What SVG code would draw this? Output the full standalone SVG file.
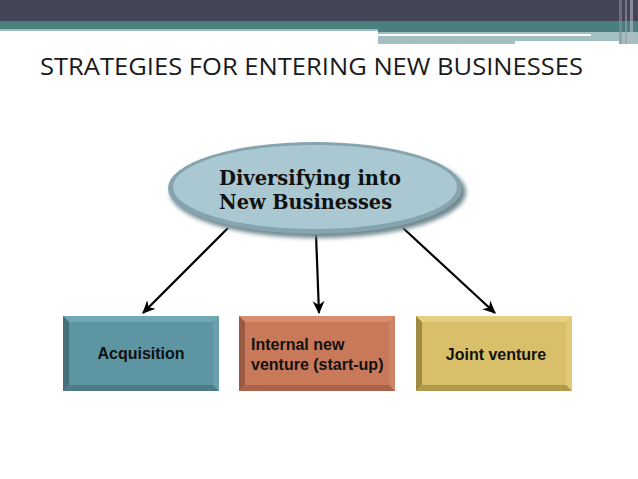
<svg xmlns="http://www.w3.org/2000/svg" width="638" height="479" viewBox="0 0 638 479">
<style>
.lbl{font-family:"Liberation Sans",Arial,sans-serif;font-weight:bold;font-size:16px;fill:#111}
.conn{stroke:#000;stroke-width:2.2;fill:none}
</style>
<defs>
<marker id="ah" viewBox="0 0 12 12" refX="11" refY="6" markerWidth="13" markerHeight="13" orient="auto" markerUnits="userSpaceOnUse">
<path d="M0,0.5 L12,6 L0,11.5 L3.5,6 Z" fill="#000"/>
</marker>
<filter id="sh" x="-10%" y="-10%" width="120%" height="130%">
<feGaussianBlur stdDeviation="2"/>
</filter>
</defs>
<rect width="638" height="479" fill="#fff"/>
<g id="header">
<rect x="0" y="0" width="638" height="21" fill="#434556"/>
<rect x="0" y="21" width="638" height="8" fill="#4a7f80"/>
<rect x="0" y="29" width="378" height="2" fill="#9fbcbf"/>
<rect x="378" y="29" width="260" height="3" fill="#4a7f80"/>
<rect x="378" y="32" width="260" height="12" fill="#a3bfc2"/>
<rect x="378" y="34" width="213" height="2" fill="#fff"/>
<rect x="515" y="41" width="104" height="3" fill="#fff"/>
<rect x="619" y="0" width="3" height="44" fill="#8a8c99" opacity="0.6"/>
<rect x="625" y="0" width="2" height="44" fill="#9a9caa" opacity="0.6"/>
<rect x="630" y="0" width="3" height="44" fill="#b8bac4" opacity="0.6"/>
</g>
<text x="40" y="75" font-family="Open Sans,'Liberation Sans',sans-serif" font-size="23.5" fill="#1a1a1a" textLength="543" lengthAdjust="spacingAndGlyphs">STRATEGIES FOR ENTERING NEW BUSINESSES</text>
<g id="connectors">
<line class="conn" x1="228" y1="228" x2="143" y2="313" marker-end="url(#ah)"/>
<line class="conn" x1="316" y1="234" x2="319" y2="313" marker-end="url(#ah)"/>
<line class="conn" x1="403" y1="228" x2="495" y2="313" marker-end="url(#ah)"/>
</g>
<g id="center">
<ellipse cx="318" cy="192" rx="148" ry="46" fill="#6f8890" filter="url(#sh)"/>
<ellipse cx="315" cy="188" rx="147" ry="46" fill="#86a4ad"/>
<ellipse cx="315" cy="187" rx="142" ry="42" fill="#a9c8d1"/>
<text font-family="'DejaVu Serif','Liberation Serif',serif" font-weight="bold" font-size="20" fill="#111"><tspan x="219" y="185" textLength="182" lengthAdjust="spacingAndGlyphs">Diversifying into</tspan><tspan x="219" y="209" textLength="173" lengthAdjust="spacingAndGlyphs">New Businesses</tspan></text>
</g>
<g id="acquisition">
<rect x="63" y="316" width="156" height="75" fill="#5d95a3"/>
<polygon points="63,316 219,316 213,322 69,322" fill="#72a8b5"/>
<polygon points="63,316 69,322 69,385 63,391" fill="#45707b"/>
<polygon points="219,316 213,322 213,385 219,391" fill="#6aa0ad"/>
<polygon points="63,391 69,385 213,385 219,391" fill="#4b7c88"/>
<text class="lbl" x="141" y="359" text-anchor="middle">Acquisition</text>
</g>
<g id="internal">
<rect x="239" y="316" width="156" height="75" fill="#c8795a"/>
<polygon points="239,316 395,316 389,322 245,322" fill="#d88d6f"/>
<polygon points="239,316 245,322 245,385 239,391" fill="#9a5a40"/>
<polygon points="395,316 389,322 389,385 395,391" fill="#d08466"/>
<polygon points="239,391 245,385 389,385 395,391" fill="#a8634a"/>
<text class="lbl"><tspan x="251" y="350">Internal new</tspan><tspan x="251" y="370">venture (start-up)</tspan></text>
</g>
<g id="joint">
<rect x="416" y="316" width="156" height="75" fill="#d9bf69"/>
<polygon points="416,316 572,316 566,322 422,322" fill="#e5cf80"/>
<polygon points="416,316 422,322 422,385 416,391" fill="#9e8a40"/>
<polygon points="572,316 566,322 566,385 572,391" fill="#e0c876"/>
<polygon points="416,391 422,385 566,385 572,391" fill="#b09a4e"/>
<text class="lbl" x="496" y="360" text-anchor="middle">Joint venture</text>
</g>
</svg>
